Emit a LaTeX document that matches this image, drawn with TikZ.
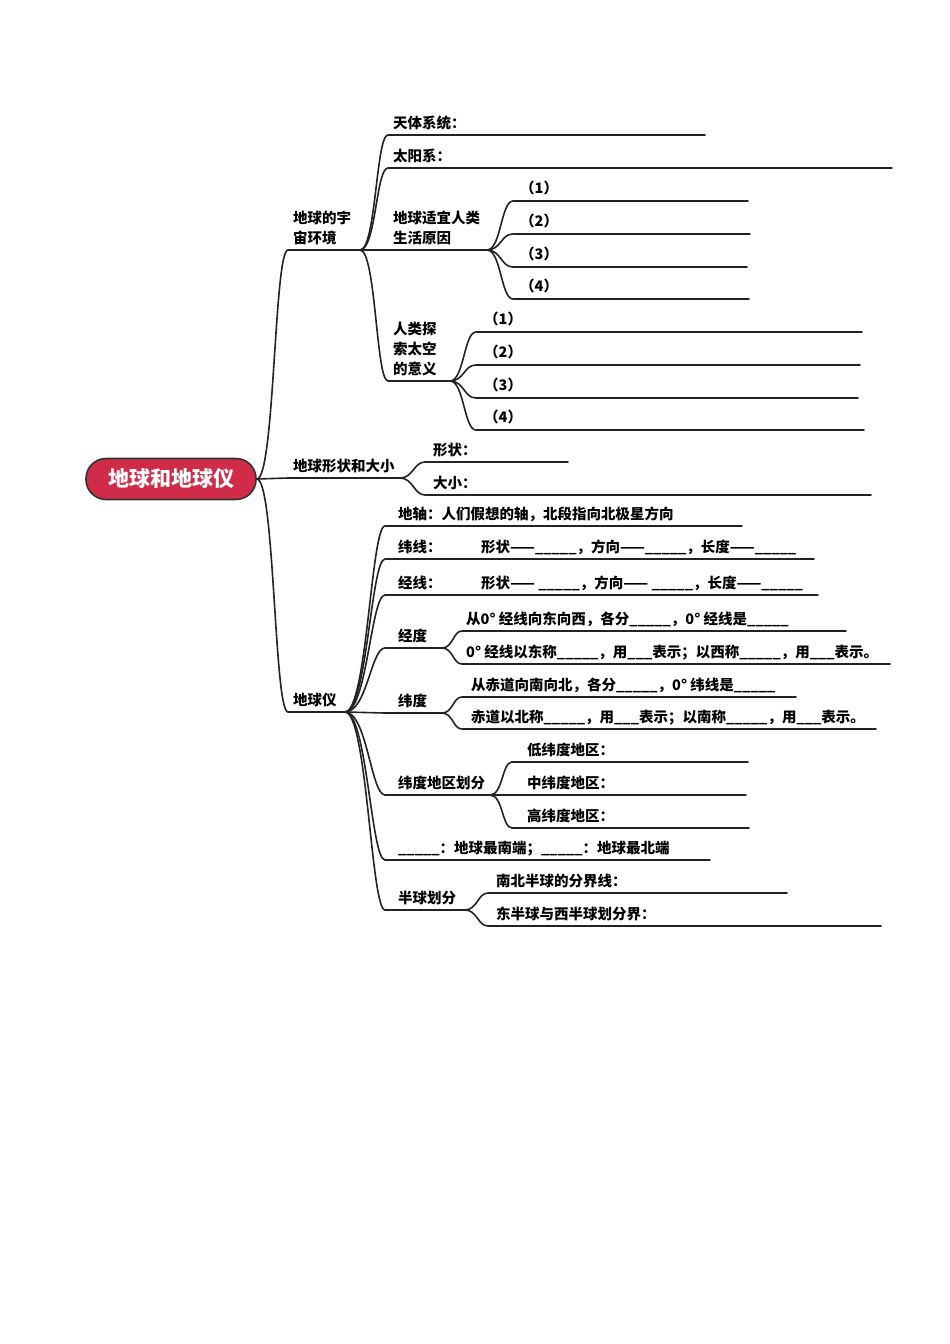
\documentclass[tikz,border=0pt]{standalone}
\usepackage{fontspec}
\setmainfont{Noto Sans CJK SC}
\usetikzlibrary{positioning}
\definecolor{rootred}{RGB}{208,44,72}
\definecolor{twiggray}{RGB}{35,35,35}
\tikzset{
  twig/.style={draw=twiggray, line width=1.6pt, line cap=round},
  lbl/.style={inner sep=0pt, anchor=base west, font=\bfseries\fontsize{14.5}{20}\selectfont},
  mlbl/.style={lbl, anchor=north west, align=left},
}

\begin{document}
\begin{tikzpicture}[x=1pt,y=-1pt]
  \fill[white] (0,0) rectangle (950,1344);
  \useasboundingbox (0,0) rectangle (950,1344);

  % root
  \node[draw=black!80, line width=1.6pt, fill=rootred, rounded corners=20pt,
        minimum width=170pt, minimum height=41pt, text=white,
        font=\bfseries\fontsize{21}{24}\selectfont] (root) at (171,479) {地球和地球仪};

  % first level
  \coordinate (yz0) at (288,250); \coordinate (yz1) at (360,250);
  \draw[twig] (root.east) .. controls +(18,0) and +(-14,0) .. (yz0) -- (yz1);
  \node[mlbl] (yzt) at (293,211) {地球的宇\\宙环境};

  \coordinate (xz0) at (288,478); \coordinate (xz1) at (400,478);
  \draw[twig] (root.east) -- (xz0) -- (xz1);
  \node[lbl] (xzt) at (293,471) {地球形状和大小};

  \coordinate (dq0) at (288,712); \coordinate (dq1) at (345,712);
  \draw[twig] (root.east) .. controls +(18,0) and +(-14,0) .. (dq0) -- (dq1);
  \node[lbl] (dqt) at (293,705) {地球仪};

  % cosmic environment
  \coordinate (tt0) at (388,135); \coordinate (tt1) at (705,135);
  \draw[twig] (yz1) .. controls +(16,0) and +(-12,0) .. (tt0) -- (tt1);
  \node[lbl] (ttt) at (393,128) {天体系统：};

  \coordinate (ty0) at (388,168); \coordinate (ty1) at (892,168);
  \draw[twig] (yz1) .. controls +(16,0) and +(-12,0) .. (ty0) -- (ty1);
  \node[lbl] (tyt) at (393,161) {太阳系：};

  \coordinate (sy0) at (388,250); \coordinate (sy1) at (487,250);
  \draw[twig] (yz1) -- (sy0) -- (sy1);
  \node[mlbl] (syt) at (393,211) {地球适宜人类\\生活原因};

  \coordinate (ts0) at (388,381); \coordinate (ts1) at (450,381);
  \draw[twig] (yz1) .. controls +(16,0) and +(-12,0) .. (ts0) -- (ts1);
  \node[mlbl] (tst) at (393,322) {人类探\\索太空\\的意义};

  \foreach \i/\y/\e in {1/201/748, 2/234/750, 3/267/747, 4/299/749}{
    \coordinate (sya\i) at (513,\y); \coordinate (syb\i) at (\e,\y);
    \draw[twig] (sy1) .. controls +(14,0) and +(-12,0) .. (sya\i) -- (syb\i);
    \node[lbl] (syt\i) at (520,\y-8) {（\i）};
  }

  \foreach \i/\y/\e in {1/332/862, 2/365/860, 3/398/858, 4/430/864}{
    \coordinate (tsa\i) at (476,\y); \coordinate (tsb\i) at (\e,\y);
    \draw[twig] (ts1) .. controls +(14,0) and +(-12,0) .. (tsa\i) -- (tsb\i);
    \node[lbl] (tst\i) at (484,\y-8) {（\i）};
  }

  % shape and size
  \coordinate (xs0) at (425,462); \coordinate (xs1) at (568,462);
  \draw[twig] (xz1) .. controls +(13,0) and +(-11,0) .. (xs0) -- (xs1);
  \node[lbl] (xst) at (433,455) {形状：};

  \coordinate (dx0) at (425,495); \coordinate (dx1) at (871,495);
  \draw[twig] (xz1) .. controls +(13,0) and +(-11,0) .. (dx0) -- (dx1);
  \node[lbl] (dxt) at (433,488) {大小：};

  % globe
  \coordinate (dz0) at (385,526); \coordinate (dz1) at (742,526);
  \draw[twig] (dq1) .. controls +(22,0) and +(-14,0) .. (dz0) -- (dz1);
  \node[lbl] (dzt) at (398,519) {地轴：人们假想的轴，北段指向北极星方向};

  \coordinate (wx0) at (385,559); \coordinate (wx1) at (814,559);
  \draw[twig] (dq1) .. controls +(22,0) and +(-14,0) .. (wx0) -- (wx1);
  \node[lbl] (wxt) at (398,552) {纬线：};
  \node[lbl] (wxs) at (481,552) {形状——\_\_\_\_\_，方向——\_\_\_\_\_，长度——\_\_\_\_\_};

  \coordinate (jx0) at (385,595); \coordinate (jx1) at (818,595);
  \draw[twig] (dq1) .. controls +(22,0) and +(-14,0) .. (jx0) -- (jx1);
  \node[lbl] (jxt) at (398,588) {经线：};
  \node[lbl] (jxs) at (481,588) {形状—— \_\_\_\_\_，方向—— \_\_\_\_\_，长度——\_\_\_\_\_};

  \coordinate (jd0) at (385,648); \coordinate (jd1) at (442,648);
  \draw[twig] (dq1) .. controls +(22,0) and +(-14,0) .. (jd0) -- (jd1);
  \node[lbl] (jdt) at (398,641) {经度};
  \coordinate (jda) at (462,631); \coordinate (jdb) at (846,631);
  \draw[twig] (jd1) .. controls +(11,0) and +(-9,0) .. (jda) -- (jdb);
  \node[lbl] (jdta) at (466,624) {从0° 经线向东向西，各分\_\_\_\_\_，0° 经线是\_\_\_\_\_};
  \coordinate (jdc) at (462,664); \coordinate (jdd) at (890,664);
  \draw[twig] (jd1) .. controls +(11,0) and +(-9,0) .. (jdc) -- (jdd);
  \node[lbl] (jdtc) at (466,657) {0° 经线以东称\_\_\_\_\_，用\_\_\_表示；以西称\_\_\_\_\_，用\_\_\_表示。};

  \coordinate (wd0) at (385,713); \coordinate (wd1) at (442,713);
  \draw[twig] (dq1) -- (wd0) -- (wd1);
  \node[lbl] (wdt) at (398,706) {纬度};
  \coordinate (wda) at (462,697); \coordinate (wdb) at (796,697);
  \draw[twig] (wd1) .. controls +(11,0) and +(-9,0) .. (wda) -- (wdb);
  \node[lbl] (wdta) at (471,690) {从赤道向南向北，各分\_\_\_\_\_，0° 纬线是\_\_\_\_\_};
  \coordinate (wdc) at (462,729); \coordinate (wdd) at (876,729);
  \draw[twig] (wd1) .. controls +(11,0) and +(-9,0) .. (wdc) -- (wdd);
  \node[lbl] (wdtc) at (471,722) {赤道以北称\_\_\_\_\_，用\_\_\_表示；以南称\_\_\_\_\_，用\_\_\_表示。};

  \coordinate (qh0) at (385,795); \coordinate (qh1) at (490,795);
  \draw[twig] (dq1) .. controls +(22,0) and +(-14,0) .. (qh0) -- (qh1);
  \node[lbl] (qht) at (398,788) {纬度地区划分};
  \foreach \i/\y/\e/\t in {1/762/748/低, 2/795/746/中, 3/828/749/高}{
    \coordinate (qha\i) at (512,\y); \coordinate (qhb\i) at (\e,\y);
    \draw[twig] (qh1) .. controls +(13,0) and +(-10,0) .. (qha\i) -- (qhb\i);
    \node[lbl] (qht\i) at (527,\y-7) {\t 纬度地区：};
  }

  \coordinate (jd20) at (385,860); \coordinate (jd21) at (710,860);
  \draw[twig] (dq1) .. controls +(22,0) and +(-14,0) .. (jd20) -- (jd21);
  \node[lbl] (jd2t) at (398,853) {\_\_\_\_\_：地球最南端；\_\_\_\_\_：地球最北端};

  \coordinate (bq0) at (385,910); \coordinate (bq1) at (465,910);
  \draw[twig] (dq1) .. controls +(22,0) and +(-14,0) .. (bq0) -- (bq1);
  \node[lbl] (bqt) at (398,903) {半球划分};
  \coordinate (bqa) at (488,893); \coordinate (bqb) at (787,893);
  \draw[twig] (bq1) .. controls +(12,0) and +(-10,0) .. (bqa) -- (bqb);
  \node[lbl] (bqta) at (496,886) {南北半球的分界线：};
  \coordinate (bqc) at (488,926); \coordinate (bqd) at (881,926);
  \draw[twig] (bq1) .. controls +(12,0) and +(-10,0) .. (bqc) -- (bqd);
  \node[lbl] (bqtc) at (496,919) {东半球与西半球划分界：};
\end{tikzpicture}
\end{document}
